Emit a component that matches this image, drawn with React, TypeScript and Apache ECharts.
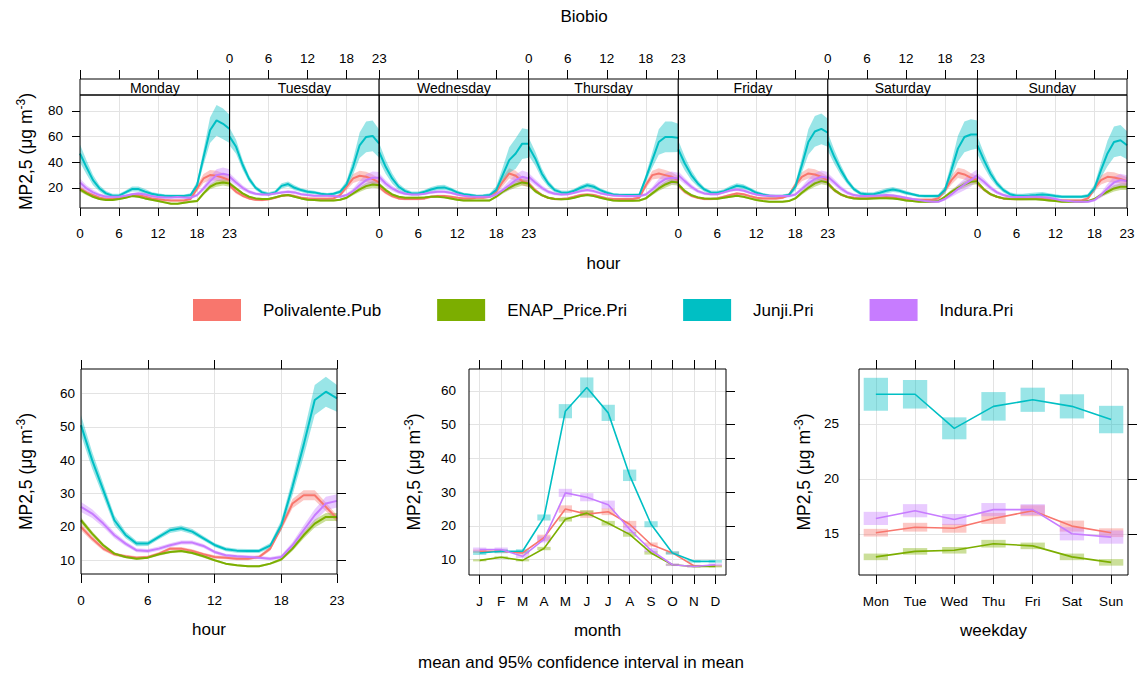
import React, { useEffect, useRef } from "react";
import * as echarts from "echarts";

// ---------------- data ----------------
const stations = ["Polivalente.Pub", "ENAP_Price.Pri", "Junji.Pri", "Indura.Pri"];
const stationColors = ["#F8766D", "#7CAE00", "#00BFC4", "#C77CFF"];
const dayNames = ["Monday", "Tuesday", "Wednesday", "Thursday", "Friday", "Saturday", "Sunday"];
const hours = [0, 1, 2, 3, 4, 5, 6, 7, 8, 9, 10, 11, 12, 13, 14, 15, 16, 17, 18, 19, 20, 21, 22, 23];
const hourTicks = [0, 6, 12, 18, 23];
const monthIdx = [0, 1, 2, 3, 4, 5, 6, 7, 8, 9, 10, 11];
const monthLabels = ["J", "F", "M", "A", "M", "J", "J", "A", "S", "O", "N", "D"];
const weekdayIdx = [0, 1, 2, 3, 4, 5, 6];
const weekdayLabels = ["Mon", "Tue", "Wed", "Thu", "Fri", "Sat", "Sun"];
const topYTicks = [20, 40, 60, 80];
const hourYTicks = [10, 20, 30, 40, 50, 60];
const monthYTicks = [10, 20, 30, 40, 50, 60];
const weekdayYTicks = [15, 20, 25];

// day x hour means (top panel)
const polivalenteDayHour = [
  [19.5, 16.4, 14.3, 12.2, 11.2, 11.2, 11.7, 13.0, 14.3, 14.3, 13.0, 11.7, 11.0, 10.4, 10.1, 10.1, 10.1, 11.2, 19.5, 27.3, 29.9, 29.4, 27.8, 26.0],
  [22.0, 16.9, 13.8, 11.7, 10.6, 10.4, 11.0, 12.2, 13.8, 14.3, 13.5, 12.2, 11.7, 11.4, 11.4, 11.4, 11.7, 14.3, 20.8, 27.3, 29.4, 28.6, 26.8, 24.2],
  [20.8, 16.4, 13.5, 11.7, 11.2, 11.2, 11.2, 11.7, 13.0, 13.5, 13.5, 13.0, 12.2, 11.7, 11.7, 12.2, 12.2, 13.0, 16.9, 24.7, 31.2, 29.4, 25.2, 23.4],
  [23.4, 18.2, 14.3, 12.2, 11.2, 11.2, 11.7, 13.0, 14.3, 14.8, 14.3, 13.0, 11.7, 11.2, 11.2, 11.2, 11.2, 12.2, 22.0, 29.9, 31.2, 29.9, 28.6, 26.0],
  [22.0, 16.9, 13.8, 12.2, 11.2, 11.2, 11.7, 13.0, 14.3, 15.6, 15.0, 13.5, 12.2, 11.7, 11.7, 11.7, 12.2, 14.3, 22.0, 28.6, 31.2, 30.4, 28.6, 26.0],
  [23.4, 18.2, 14.8, 13.0, 12.2, 11.7, 11.7, 12.2, 12.5, 12.7, 12.5, 11.7, 11.0, 10.6, 10.6, 10.6, 10.6, 11.7, 18.2, 26.0, 31.7, 30.4, 27.8, 26.0],
  [23.4, 18.7, 15.0, 13.0, 11.7, 11.2, 11.2, 11.2, 11.4, 11.7, 11.4, 11.0, 10.4, 10.1, 10.1, 10.1, 10.1, 11.7, 19.5, 26.0, 28.6, 28.1, 26.8, 25.2],
];
const enapDayHour = [
  [18.7, 15.6, 13.0, 11.2, 10.4, 10.4, 11.2, 12.2, 13.5, 13.0, 11.7, 10.6, 9.6, 8.6, 7.5, 7.5, 8.3, 9.1, 9.6, 15.6, 20.8, 23.4, 24.2, 23.4],
  [23.4, 19.5, 15.6, 13.0, 11.7, 11.2, 11.2, 12.5, 13.8, 14.3, 13.0, 11.7, 10.6, 10.4, 10.1, 10.1, 10.1, 10.6, 12.2, 15.6, 18.7, 21.3, 22.6, 22.0],
  [22.6, 18.2, 14.8, 13.0, 12.2, 12.2, 12.2, 12.5, 13.0, 13.0, 12.5, 11.7, 10.6, 10.1, 10.1, 10.1, 10.1, 10.1, 13.0, 16.9, 20.0, 22.6, 24.2, 23.4],
  [22.6, 17.4, 14.3, 12.2, 11.2, 11.0, 11.2, 12.2, 13.5, 14.3, 13.5, 12.2, 11.0, 10.1, 9.9, 9.9, 9.9, 10.1, 11.7, 15.6, 19.5, 22.6, 24.7, 24.2],
  [22.6, 17.4, 14.3, 12.5, 11.7, 11.4, 11.4, 12.2, 13.0, 13.8, 13.0, 11.7, 10.4, 9.6, 9.1, 9.1, 9.1, 9.6, 11.7, 16.1, 20.0, 23.4, 25.2, 24.2],
  [23.4, 18.2, 14.8, 12.7, 11.7, 11.4, 11.4, 11.7, 11.9, 11.9, 11.7, 11.0, 10.1, 9.6, 9.1, 9.1, 9.1, 9.6, 13.0, 16.9, 20.0, 22.6, 24.7, 25.2],
  [24.2, 18.7, 15.0, 13.0, 11.7, 11.2, 11.0, 11.0, 11.0, 11.0, 10.6, 10.1, 9.6, 9.1, 9.1, 9.1, 9.1, 9.6, 11.2, 14.3, 16.9, 19.5, 20.8, 20.8],
];
const junjiDayHour = [
  [46.8, 36.0, 26.0, 19.5, 15.6, 13.8, 13.8, 16.4, 19.0, 19.0, 17.0, 15.3, 14.3, 13.8, 13.5, 13.5, 13.5, 14.3, 22.0, 44.0, 65.0, 72.7, 70.0, 66.0],
  [60.0, 52.0, 38.0, 27.0, 20.0, 16.4, 15.0, 16.4, 21.5, 22.9, 20.0, 18.2, 16.9, 16.4, 15.3, 14.8, 15.3, 16.9, 22.6, 36.4, 53.2, 59.7, 60.5, 54.5],
  [48.0, 36.4, 27.3, 20.8, 17.4, 15.6, 15.6, 16.9, 18.7, 20.0, 20.3, 18.7, 16.4, 15.0, 14.3, 13.5, 13.8, 14.3, 18.2, 29.9, 41.6, 46.8, 54.5, 54.5],
  [52.0, 42.9, 31.2, 23.4, 18.2, 16.4, 16.1, 17.7, 20.0, 22.0, 20.8, 18.2, 16.1, 14.8, 14.3, 14.3, 14.3, 14.3, 27.3, 41.6, 55.8, 59.7, 59.7, 59.0],
  [50.0, 39.0, 29.9, 23.4, 18.7, 16.4, 16.1, 17.4, 19.5, 21.6, 20.8, 18.7, 16.1, 14.8, 13.8, 13.5, 13.5, 14.3, 20.8, 37.7, 55.8, 64.0, 66.0, 63.0],
  [56.0, 44.0, 33.8, 25.2, 19.0, 15.6, 15.0, 15.0, 16.1, 17.7, 18.7, 17.7, 16.1, 15.0, 13.8, 13.5, 13.5, 13.5, 18.2, 33.8, 50.6, 59.7, 61.6, 61.6],
  [53.2, 41.6, 31.2, 23.4, 18.2, 15.0, 13.8, 13.8, 14.0, 14.3, 14.8, 14.3, 13.5, 13.0, 13.0, 13.0, 13.0, 13.8, 19.5, 33.8, 46.8, 55.8, 57.1, 53.2],
];
const induraDayHour = [
  [24.2, 19.5, 16.4, 14.3, 13.0, 13.0, 13.0, 13.8, 15.0, 15.6, 14.8, 13.5, 12.7, 12.5, 12.5, 12.7, 12.5, 12.2, 14.3, 19.5, 25.2, 29.9, 30.9, 29.9],
  [28.6, 24.2, 20.0, 16.9, 15.3, 14.8, 14.8, 15.6, 16.4, 16.9, 16.4, 15.0, 14.3, 13.8, 13.8, 13.8, 13.5, 13.0, 14.3, 17.4, 22.0, 26.0, 27.8, 27.8],
  [28.6, 23.4, 19.5, 16.9, 15.3, 14.8, 14.8, 15.3, 16.4, 16.9, 16.9, 16.1, 14.8, 13.8, 13.2, 13.0, 13.0, 13.0, 14.8, 18.2, 22.0, 26.0, 28.6, 27.3],
  [28.6, 24.2, 20.0, 16.9, 15.3, 14.8, 15.0, 16.1, 17.4, 18.2, 17.4, 15.8, 14.8, 14.0, 13.8, 13.5, 13.5, 13.5, 14.8, 18.7, 23.4, 26.8, 27.8, 27.3],
  [29.9, 25.2, 20.8, 17.4, 15.6, 15.0, 15.0, 16.4, 17.9, 18.7, 17.9, 16.1, 14.8, 14.0, 13.8, 13.5, 13.5, 13.5, 14.8, 19.0, 23.4, 26.8, 28.6, 27.8],
  [28.6, 24.2, 19.5, 16.1, 14.3, 13.5, 13.5, 13.8, 14.0, 14.3, 14.0, 13.2, 12.2, 11.2, 10.4, 9.6, 9.1, 9.1, 11.2, 14.8, 19.0, 22.6, 26.0, 29.9],
  [28.6, 24.7, 20.0, 16.4, 14.3, 13.0, 12.7, 12.7, 13.0, 13.0, 12.7, 12.2, 11.2, 10.1, 9.6, 9.1, 9.1, 9.1, 10.4, 14.3, 19.5, 24.2, 26.0, 25.2],
];
// half-width of 95% CI by hour (top panel)
const polivalenteTopCI = [2.0, 1.5, 1.2, 1.0, 1.0, 1.0, 1.0, 1.0, 1.0, 1.0, 1.0, 1.0, 1.0, 1.0, 1.0, 1.0, 1.0, 1.2, 2.5, 3.5, 4.0, 4.0, 3.5, 3.0];
const enapTopCI = [1.8, 1.4, 1.0, 0.8, 0.8, 0.8, 0.8, 0.8, 0.8, 0.8, 0.8, 0.8, 0.8, 0.8, 0.8, 0.8, 0.8, 0.8, 1.0, 1.5, 2.0, 2.5, 2.5, 2.5];
const junjiTopCI = [7.0, 5.5, 4.0, 2.5, 1.8, 1.5, 1.5, 1.5, 2.0, 2.0, 2.0, 1.5, 1.5, 1.2, 1.2, 1.2, 1.2, 1.5, 3.0, 6.0, 10.0, 12.0, 12.0, 11.0];
const induraTopCI = [3.0, 2.5, 2.0, 1.5, 1.2, 1.0, 1.0, 1.0, 1.0, 1.2, 1.2, 1.0, 1.0, 1.0, 1.0, 1.0, 1.0, 1.0, 1.2, 2.0, 3.5, 4.5, 5.0, 4.5];

// hour panel (all days)
const polivalenteHour = [20.0, 16.5, 13.5, 11.8, 11.2, 10.8, 11.0, 12.0, 13.5, 13.5, 12.8, 11.8, 11.0, 10.8, 10.5, 10.5, 11.0, 13.5, 20.0, 27.0, 29.5, 29.5, 26.0, 22.5];
const enapHour = [22.0, 18.0, 14.5, 12.0, 11.0, 10.5, 10.8, 11.8, 12.5, 12.8, 12.2, 11.2, 10.0, 9.0, 8.5, 8.2, 8.2, 9.0, 10.3, 13.5, 17.5, 21.0, 23.0, 23.0];
const junjiHour = [50.5, 40.0, 31.0, 22.0, 17.6, 15.0, 15.0, 17.0, 19.0, 19.6, 18.6, 16.6, 14.6, 13.3, 12.9, 12.8, 12.8, 14.4, 20.6, 32.0, 44.5, 58.0, 60.5, 58.5];
const induraHour = [26.0, 24.0, 21.0, 17.5, 15.0, 13.0, 12.8, 13.5, 14.5, 15.3, 15.3, 14.3, 12.5, 11.5, 11.2, 11.0, 10.8, 10.5, 11.0, 14.5, 19.0, 23.5, 27.0, 27.8];
const polivalenteHourCI = [1.0, 0.8, 0.6, 0.5, 0.5, 0.4, 0.4, 0.5, 0.5, 0.5, 0.5, 0.5, 0.5, 0.5, 0.5, 0.5, 0.5, 0.6, 1.0, 1.4, 1.5, 1.5, 1.3, 1.0];
const enapHourCI = [0.8, 0.7, 0.5, 0.4, 0.4, 0.3, 0.3, 0.4, 0.4, 0.4, 0.4, 0.4, 0.3, 0.3, 0.3, 0.3, 0.3, 0.3, 0.5, 0.7, 1.0, 1.2, 1.2, 1.2];
const junjiHourCI = [3.0, 2.5, 2.0, 1.5, 1.0, 0.8, 0.7, 0.7, 0.8, 0.8, 0.8, 0.7, 0.6, 0.6, 0.6, 0.6, 0.6, 0.8, 1.5, 2.5, 3.5, 4.5, 4.5, 4.0];
const induraHourCI = [1.5, 1.3, 1.1, 0.9, 0.7, 0.6, 0.6, 0.6, 0.6, 0.6, 0.6, 0.6, 0.5, 0.5, 0.5, 0.5, 0.5, 0.5, 0.6, 0.9, 1.4, 1.8, 2.0, 2.0];

// month panel
const polivalenteMonth = [12.5, 12.5, 12.0, 16.5, 25.0, 23.5, 24.2, 20.5, 14.5, 12.0, 8.2, 8.2];
const enapMonth = [9.8, 10.7, 9.8, 13.3, 22.0, 23.8, 20.8, 17.5, 12.0, 8.5, 8.0, 8.0];
const junjiMonth = [12.0, 12.5, 12.5, 22.5, 54.0, 61.0, 53.5, 35.0, 20.5, 12.0, 9.5, 9.5];
const induraMonth = [13.0, 13.0, 11.0, 16.0, 29.8, 28.5, 26.3, 19.0, 12.8, 8.5, 8.0, 8.5];
const polivalenteMonthCI = [0.5, 0.5, 0.5, 0.9, 1.1, 1.1, 1.0, 1.0, 0.6, 0.4, 0.3, 0.3];
const enapMonthCI = [0.3, 0.3, 0.3, 0.5, 0.7, 0.8, 0.7, 0.7, 0.5, 0.3, 0.3, 0.3];
const junjiMonthCI = [0.6, 0.6, 0.6, 0.9, 2.1, 3.0, 2.4, 1.7, 0.9, 0.5, 0.4, 0.4];
const induraMonthCI = [0.6, 0.6, 0.5, 0.9, 1.2, 1.2, 1.2, 1.0, 0.6, 0.4, 0.3, 0.4];

// weekday panel
const polivalenteWeekday = [15.1, 15.6, 15.5, 16.4, 17.1, 15.7, 15.1];
const enapWeekday = [12.9, 13.4, 13.5, 14.1, 13.9, 12.9, 12.4];
const junjiWeekday = [27.7, 27.7, 24.6, 26.6, 27.2, 26.6, 25.4];
const induraWeekday = [16.4, 17.1, 16.3, 17.2, 17.2, 15.0, 14.7];
const polivalenteWeekdayCI = [0.35, 0.4, 0.4, 0.5, 0.5, 0.5, 0.4];
const enapWeekdayCI = [0.3, 0.3, 0.3, 0.35, 0.3, 0.3, 0.3];
const junjiWeekdayCI = [1.5, 1.3, 1.0, 1.3, 1.1, 1.1, 1.25];
const induraWeekdayCI = [0.6, 0.6, 0.5, 0.6, 0.5, 0.6, 0.6];

const topMeans = [polivalenteDayHour, enapDayHour, junjiDayHour, induraDayHour];
const topCIs = [polivalenteTopCI, enapTopCI, junjiTopCI, induraTopCI];
const hourMeans = [polivalenteHour, enapHour, junjiHour, induraHour];
const hourCIs = [polivalenteHourCI, enapHourCI, junjiHourCI, induraHourCI];
const monthMeans = [polivalenteMonth, enapMonth, junjiMonth, induraMonth];
const monthCIs = [polivalenteMonthCI, enapMonthCI, junjiMonthCI, induraMonthCI];
const weekdayMeans = [polivalenteWeekday, enapWeekday, junjiWeekday, induraWeekday];
const weekdayCIs = [polivalenteWeekdayCI, enapWeekdayCI, junjiWeekdayCI, induraWeekdayCI];

// ---------------- layout ----------------
const FONT = "'Liberation Sans', Arial, Helvetica, sans-serif";
const TOP_LEFT = 80;
const TOP_RIGHT = 1127;
const TOP_Y = 95;
const TOP_H = 113;
const STRIP_H = 16;
const PANEL_W = (TOP_RIGHT - TOP_LEFT) / 7;
const BOTTOM_GRIDS = [
  { left: 81, top: 369, width: 256, height: 205 },
  { left: 469, top: 369, width: 257, height: 206 },
  { left: 859, top: 369, width: 269, height: 206 },
];
const GRID_COLOR = "#e3e3e3";
const Y_NAME = "{a|MP2,5 (μg m}{s|-3}{a|)}";

function rgba(hex: string, a: number) {
  const n = parseInt(hex.slice(1), 16);
  return `rgba(${(n >> 16) & 255},${(n >> 8) & 255},${n & 255},${a})`;
}

const yNameStyle = {
  color: "#000",
  fontFamily: FONT,
  rich: {
    a: { fontSize: 17.5, fontFamily: FONT, color: "#000", lineHeight: 20, verticalAlign: "bottom" },
    s: { fontSize: 12, fontFamily: FONT, color: "#000", lineHeight: 12, verticalAlign: "top" },
  },
};
const labelStyle = { color: "#000", fontSize: 13.5, fontFamily: FONT };
const tickStyle = { color: "#000", width: 1 };
const nameStyle = { fontSize: 17, color: "#000", fontFamily: FONT };

function bandSeries(s: number, xIdx: number, yIdx: number, xs: number[], mean: number[], ci: number[]) {
  const data = xs.map((x, i) => [x, mean[i] - ci[i], mean[i] + ci[i]]);
  const fill = rgba(stationColors[s], 0.4);
  return {
    type: "custom",
    name: stations[s],
    xAxisIndex: xIdx,
    yAxisIndex: yIdx,
    data,
    encode: { x: 0, y: [1, 2] },
    clip: true,
    silent: true,
    z: 1,
    itemStyle: { color: stationColors[s] },
    renderItem: (params: any, api: any) => {
      if (params.dataIndex !== 0) return null;
      const upper = data.map((d) => api.coord([d[0], d[2]]));
      const lower = data.map((d) => api.coord([d[0], d[1]])).reverse();
      return {
        type: "polygon",
        shape: { points: upper.concat(lower) },
        style: { fill, stroke: "none" },
        silent: true,
      };
    },
  };
}

function boxSeries(s: number, xIdx: number, yIdx: number, xs: number[], mean: number[], ci: number[]) {
  const data = xs.map((x, i) => [x, mean[i] - ci[i], mean[i] + ci[i]]);
  const fill = rgba(stationColors[s], 0.4);
  return {
    type: "custom",
    name: stations[s],
    xAxisIndex: xIdx,
    yAxisIndex: yIdx,
    data,
    encode: { x: 0, y: [1, 2] },
    clip: true,
    silent: true,
    z: 1,
    itemStyle: { color: stationColors[s] },
    renderItem: (params: any, api: any) => {
      const x = api.value(0);
      const p1 = api.coord([x, api.value(2)]);
      const p2 = api.coord([x, api.value(1)]);
      const w = api.size([1, 0])[0] * 0.62;
      return {
        type: "rect",
        shape: { x: p1[0] - w / 2, y: p1[1], width: w, height: p2[1] - p1[1] },
        style: { fill, stroke: "none" },
        silent: true,
      };
    },
  };
}

function lineSeries(s: number, xIdx: number, yIdx: number, xs: number[], ys: number[], width: number) {
  return {
    type: "line",
    name: stations[s],
    xAxisIndex: xIdx,
    yAxisIndex: yIdx,
    data: xs.map((x, i) => [x, ys[i]]),
    showSymbol: false,
    symbol: "none",
    silent: true,
    z: 3,
    color: stationColors[s],
    itemStyle: { color: stationColors[s] },
    lineStyle: { color: stationColors[s], width },
  };
}

function buildOption() {
  const grid: any[] = [];
  const xAxis: any[] = [];
  const yAxis: any[] = [];
  const series: any[] = [];
  const graphic: any[] = [];
  const noLine = { show: false, onZero: false };

  // top panels
  for (let d = 0; d < 7; d++) {
    const g = grid.length;
    const left = TOP_LEFT + d * PANEL_W;
    grid.push({ left, top: TOP_Y, width: PANEL_W, height: TOP_H, containLabel: false });
    xAxis.push({
      type: "value", gridIndex: g, min: 0, max: 23, position: "bottom",
      axisLine: noLine,
      axisTick: { show: true, length: 8, lineStyle: tickStyle, customValues: hourTicks },
      axisLabel: { show: d % 2 === 0, customValues: hourTicks, margin: 18, ...labelStyle },
      splitLine: { show: true, lineStyle: { color: GRID_COLOR, width: 1 } },
      name: d === 3 ? "hour" : "",
      nameLocation: "middle", nameGap: 47,
      nameTextStyle: nameStyle,
    });
    xAxis.push({
      type: "value", gridIndex: g, min: 0, max: 23, position: "top", offset: STRIP_H,
      axisLine: noLine,
      axisTick: { show: true, length: 9, lineStyle: tickStyle, customValues: hourTicks },
      axisLabel: { show: d % 2 === 1, customValues: hourTicks, margin: 14, ...labelStyle },
      splitLine: { show: false },
    });
    yAxis.push({
      type: "value", gridIndex: g, min: 4.2, max: 92.5, position: "left",
      axisLine: noLine,
      axisTick: { show: d === 0, length: 8, lineStyle: tickStyle, customValues: topYTicks },
      axisLabel: { show: d === 0, customValues: topYTicks, margin: 17, ...labelStyle },
      splitLine: { show: true, lineStyle: { color: GRID_COLOR, width: 1 } },
      name: d === 0 ? Y_NAME : "",
      nameLocation: "middle", nameRotate: 90, nameGap: 45,
      nameTextStyle: yNameStyle,
    });
    yAxis.push({
      type: "value", gridIndex: g, min: 4.2, max: 92.5, position: "right",
      axisLine: noLine,
      axisTick: { show: d === 6, length: 8, lineStyle: tickStyle, customValues: topYTicks },
      axisLabel: { show: false, customValues: topYTicks },
      splitLine: { show: false },
    });
    for (let s = 0; s < 4; s++) {
      series.push(bandSeries(s, 2 * g, 2 * g, hours, topMeans[s][d], topCIs[s]));
    }
    for (let s = 0; s < 4; s++) {
      series.push(lineSeries(s, 2 * g, 2 * g, hours, topMeans[s][d], 2));
    }
    graphic.push({
      type: "rect", z: 100,
      shape: { x: left, y: TOP_Y - STRIP_H, width: PANEL_W, height: STRIP_H },
      style: { fill: "#fff", stroke: "#000", lineWidth: 1 },
    });
    graphic.push({
      type: "text", z: 101,
      x: left + PANEL_W / 2, y: TOP_Y - STRIP_H / 2 + 1,
      style: { text: dayNames[d], fill: "#000", font: `14px ${FONT}`, textAlign: "center", textVerticalAlign: "middle" },
    });
    graphic.push({
      type: "rect", z: 100,
      shape: { x: left, y: TOP_Y, width: PANEL_W, height: TOP_H },
      style: { fill: "none", stroke: "#000", lineWidth: 1 },
    });
  }

  // bottom panels
  const bottomDefs = [
    {
      min: 0, max: 23, yMin: 5.9, yMax: 67.3, xt: hourTicks, yt: hourYTicks, name: "hour", labMargin: 6,
      fmt: (v: number) => String(v), xs: hours, means: hourMeans, cis: hourCIs, kind: "band",
    },
    {
      min: -0.5, max: 11.5, yMin: 5.46, yMax: 66.5, xt: monthIdx, yt: monthYTicks, name: "month", labMargin: 13,
      fmt: (v: number) => monthLabels[Math.round(v)], xs: monthIdx, means: monthMeans, cis: monthCIs, kind: "box",
    },
    {
      min: -0.43, max: 6.43, yMin: 11.25, yMax: 30, xt: weekdayIdx, yt: weekdayYTicks, name: "weekday", labMargin: 20,
      fmt: (v: number) => weekdayLabels[Math.round(v)], xs: weekdayIdx, means: weekdayMeans, cis: weekdayCIs, kind: "box",
    },
  ];
  bottomDefs.forEach((b, k) => {
    const g = grid.length;
    const gp = BOTTOM_GRIDS[k];
    grid.push({ ...gp, containLabel: false });
    xAxis.push({
      type: "value", gridIndex: g, min: b.min, max: b.max, position: "bottom",
      axisLine: noLine,
      axisTick: { show: true, length: 9, lineStyle: tickStyle, customValues: b.xt },
      axisLabel: { show: true, customValues: b.xt, margin: 19, formatter: b.fmt, ...labelStyle },
      splitLine: { show: true, lineStyle: { color: GRID_COLOR, width: 1 } },
      name: b.name, nameLocation: "middle", nameGap: 47,
      nameTextStyle: nameStyle,
    });
    xAxis.push({
      type: "value", gridIndex: g, min: b.min, max: b.max, position: "top",
      axisLine: noLine,
      axisTick: { show: true, length: 9, lineStyle: tickStyle, customValues: b.xt },
      axisLabel: { show: false, customValues: b.xt },
      splitLine: { show: false },
    });
    yAxis.push({
      type: "value", gridIndex: g, min: b.yMin, max: b.yMax, position: "left",
      axisLine: noLine,
      axisTick: { show: false, customValues: b.yt },
      axisLabel: { show: true, customValues: b.yt, margin: b.labMargin, ...labelStyle },
      splitLine: { show: true, lineStyle: { color: GRID_COLOR, width: 1 } },
      name: Y_NAME, nameLocation: "middle", nameRotate: 90, nameGap: 46,
      nameTextStyle: yNameStyle,
    });
    yAxis.push({
      type: "value", gridIndex: g, min: b.yMin, max: b.yMax, position: "right",
      axisLine: noLine,
      axisTick: { show: true, length: 9, lineStyle: tickStyle, customValues: b.yt },
      axisLabel: { show: false, customValues: b.yt },
      splitLine: { show: false },
    });
    for (let s = 0; s < 4; s++) {
      if (b.kind === "band") series.push(bandSeries(s, 2 * g, 2 * g, b.xs, b.means[s], b.cis[s]));
      else series.push(boxSeries(s, 2 * g, 2 * g, b.xs, b.means[s], b.cis[s]));
    }
    for (let s = 0; s < 4; s++) {
      series.push(lineSeries(s, 2 * g, 2 * g, b.xs, b.means[s], b.kind === "band" ? 2 : 1.6));
    }
    graphic.push({
      type: "rect", z: 100,
      shape: { x: gp.left, y: gp.top, width: gp.width, height: gp.height },
      style: { fill: "none", stroke: "#000", lineWidth: 1 },
    });
  });

  graphic.push({
    type: "text", z: 101, x: 581, y: 662,
    style: {
      text: "mean and 95% confidence interval in mean", fill: "#000",
      font: `17px ${FONT}`, textAlign: "center", textVerticalAlign: "middle",
    },
  });

  return {
    animation: false,
    backgroundColor: "#fff",
    textStyle: { fontFamily: FONT },
    title: {
      text: "Biobio", left: 584, top: 8, textAlign: "center", padding: 0,
      textStyle: { fontSize: 17, fontWeight: "normal", color: "#000", fontFamily: FONT },
    },
    legend: {
      data: stations, left: 193, top: 299, icon: "rect", itemWidth: 48, itemHeight: 22, itemGap: 56,
      padding: 0, selectedMode: false,
      textStyle: { fontSize: 17, color: "#000", fontFamily: FONT, padding: [0, 0, 0, 17] },
    },
    grid, xAxis, yAxis, series, graphic,
  };
}

export default function App() {
  const ref = useRef<HTMLDivElement>(null);
  useEffect(() => {
    if (!ref.current) return;
    const chart = echarts.init(ref.current, null, { renderer: "svg" });
    chart.setOption(buildOption() as any);
    return () => chart.dispose();
  }, []);
  return (
    <div
      ref={ref}
      style={{ position: "absolute", left: 0, top: 0, width: 1140, height: 676, background: "#fff" }}
    />
  );
}
